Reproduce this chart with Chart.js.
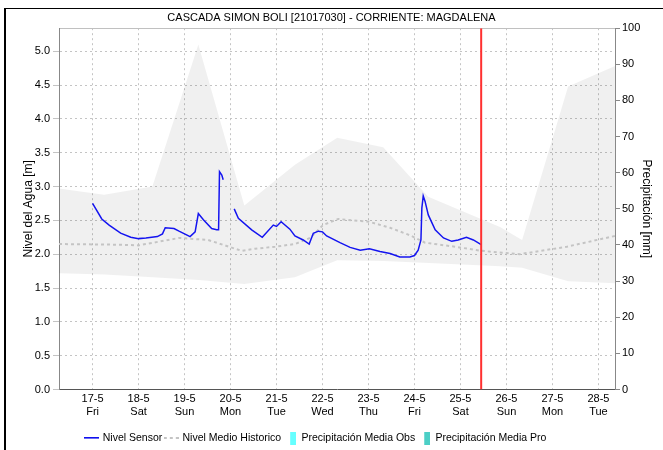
<!DOCTYPE html>
<html>
<head>
<meta charset="utf-8">
<script src="https://cdn.jsdelivr.net/npm/chart.js@4.4.1/dist/chart.umd.min.js"></script>
<style>
  html, body { margin: 0; padding: 0; background: #fff; overflow: hidden; }
  #marco { position: absolute; left: 4px; top: 8px; width: 700px; height: 500px; border-left: 2px solid #000; border-top: 1px solid #000; }
  #grafico { position: absolute; left: 0; top: 0; }
</style>
</head>
<body>
<div id="marco"></div>
<canvas id="grafico" width="663" height="450"></canvas>
<script>
const titulo = 'CASCADA SIMON BOLI [21017030] - CORRIENTE: MAGDALENA'

// eje x en días contados desde el 17-5 a las 00:00
const fechas = ['17-5', '18-5', '19-5', '20-5', '21-5', '22-5', '23-5', '24-5', '25-5', '26-5', '27-5', '28-5']
const diasSemana = ['Fri', 'Sat', 'Sun', 'Mon', 'Tue', 'Wed', 'Thu', 'Fri', 'Sat', 'Sun', 'Mon', 'Tue']
const diaInicio = -0.73
const diaFin = 11.36
const diaActual = 8.45

// Nivel Sensor [m] (null = sin dato)
const sensorDias = [0, 0.2, 0.36, 0.61, 0.83, 1.0, 1.16, 1.41, 1.52, 1.58, 1.77, 1.88, 2.12, 2.23, 2.3, 2.41, 2.59, 2.7, 2.74, 2.76, 2.81, 2.84,
  2.96, 3.08, 3.17, 3.46, 3.69, 3.93, 4.0, 4.1, 4.29, 4.4, 4.58, 4.71, 4.8, 4.91, 5.0, 5.09, 5.38, 5.6, 5.82, 6.02, 6.25, 6.47, 6.68, 6.9, 7.0,
  7.08, 7.14, 7.16, 7.19, 7.23, 7.3, 7.45, 7.63, 7.81, 7.95, 8.13, 8.28, 8.45]
const sensorNivel = [2.75, 2.52, 2.43, 2.31, 2.25, 2.23, 2.24, 2.26, 2.3, 2.39, 2.38, 2.34, 2.26, 2.33, 2.6, 2.51, 2.38, 2.36, 2.36, 3.22, 3.17, 3.1,
  null, 2.67, 2.53, 2.36, 2.25, 2.43, 2.41, 2.48, 2.37, 2.27, 2.21, 2.15, 2.31, 2.34, 2.33, 2.27, 2.17, 2.1, 2.06, 2.08, 2.04, 2.01, 1.96, 1.96, 1.98,
  2.06, 2.21, 2.68, 2.86, 2.78, 2.58, 2.36, 2.24, 2.19, 2.21, 2.25, 2.21, 2.14]

// Nivel Medio Historico [m]
const historicoDias = [-0.73, 0.58, 1.0, 1.88, 2.51, 3.24, 3.53, 3.97, 4.4, 4.73, 5.01, 5.34, 6.01, 6.47, 6.9, 7.23, 7.88, 8.45, 9.29, 10.31, 11.36]
const historicoNivel = [2.15, 2.14, 2.13, 2.24, 2.21, 2.05, 2.08, 2.11, 2.15, 2.24, 2.43, 2.52, 2.48, 2.39, 2.28, 2.17, 2.11, 2.05, 2.0, 2.11, 2.27]

// banda de niveles historicos (max / min) [m]
const bandaDias = [-0.73, 0.25, 1.3, 2.3, 3.3, 4.4, 5.32, 6.32, 7.3, 8.86, 9.34, 10.34, 11.36]
const bandaMax = [2.97, 2.88, 3.0, 5.1, 2.72, 3.32, 3.72, 3.58, 2.85, 2.4, 2.21, 4.48, 4.78]
const bandaMin = [1.72, 1.7, 1.66, 1.62, 1.56, 1.66, 1.91, 1.9, 1.87, 1.82, 1.8, 1.6, 1.57]

const nivelMax = 5.34

const puntos = (xs, ys) => xs.map((x, i) => ({ x, y: ys[i] }))

// iconos de la leyenda (el rectangulo va pegado al texto)
function icono(w, h, dibujar) {
  const c = document.createElement('canvas')
  c.width = w
  c.height = h
  dibujar(c.getContext('2d'))
  return c
}
const iconos = [
  icono(15, 2, g => { g.fillStyle = '#1010ee'; g.fillRect(0, 0, 15, 1.5) }),
  icono(15, 2, g => { g.fillStyle = '#c4c4c4'; for (let x = 0; x < 15; x += 6) g.fillRect(x, 0, 3, 2) }),
  icono(12, 13, g => { g.fillStyle = '#66ffff'; g.fillRect(6, 0, 6, 13) }),
  icono(12, 13, g => { g.fillStyle = '#4ccfc6'; g.fillRect(6, 0, 6, 13) })
]

Chart.defaults.font.family = "'Liberation Sans', Arial, sans-serif"
Chart.defaults.font.size = 11
Chart.defaults.color = '#000'

const data = {
  datasets: [
    {
      type: 'line', label: 'Nivel Sensor', data: puntos(sensorDias, sensorNivel), yAxisID: 'y',
      borderColor: '#1414f0', borderWidth: 1.5, pointRadius: 0, spanGaps: false, order: 1
    },
    {
      type: 'line', label: 'Nivel Medio Historico', data: puntos(historicoDias, historicoNivel), yAxisID: 'y',
      borderColor: '#c4c4c4', borderWidth: 2, borderDash: [3, 3], pointRadius: 0, order: 2
    },
    { type: 'bar', label: 'Precipitación Media Obs', data: [], yAxisID: 'y2', backgroundColor: '#66ffff' },
    { type: 'bar', label: 'Precipitación Media Pro', data: [], yAxisID: 'y2', backgroundColor: '#4ccfc6' },
    {
      type: 'line', label: '', data: [{ x: diaActual, y: 0 }, { x: diaActual, y: nivelMax }], yAxisID: 'y',
      borderColor: '#ff3030', borderWidth: 2, pointRadius: 0, order: 0
    },
    {
      type: 'line', label: '', data: puntos(bandaDias, bandaMin), yAxisID: 'y',
      borderWidth: 0, pointRadius: 0, fill: false, order: 5
    },
    {
      type: 'line', label: '', data: puntos(bandaDias, bandaMax), yAxisID: 'y',
      borderWidth: 0, pointRadius: 0, fill: '-1', backgroundColor: 'rgba(0,0,0,0.06)', order: 5
    }
  ]
}

// la leyenda empieza a la altura de la linea azul del original
const posLeyenda = {
  id: 'posLeyenda',
  afterLayout(chart) {
    const l = chart.legend
    const alto = l.bottom - l.top
    l.left = 82.5
    l.right = 782.5
    l.top = 430
    l.bottom = 430 + alto
  }
}

const config = {
  type: 'line',
  data,
  plugins: [posLeyenda],
  options: {
    responsive: false,
    animation: false,
    layout: { padding: 0 },
    scales: {
      x: {
        type: 'linear', min: diaInicio, max: diaFin, offset: false,
        afterFit: s => { s.height = 37 },
        ticks: {
          stepSize: 1, includeBounds: false, maxRotation: 0, autoSkip: false, padding: 3,
          callback: v => (Number.isInteger(v) && fechas[v]) ? [fechas[v], diasSemana[v]] : ''
        },
        grid: { color: '#c4c4c4', drawTicks: false, offset: false },
        border: { color: '#555', dash: [2, 3] }
      },
      xTop: {
        type: 'linear', position: 'top', min: diaInicio, max: diaFin, offset: false,
        afterFit: s => { s.height = 0 },
        ticks: { display: false },
        grid: { display: false },
        border: { color: '#c0c0c0' }
      },
      y: {
        min: 0, max: nivelMax,
        afterFit: s => { s.width = 59 },
        ticks: { stepSize: 0.5, includeBounds: false, padding: 3, callback: v => v.toFixed(1) },
        grid: { color: '#c4c4c4', tickLength: 6 },
        border: { color: '#888', dash: [2, 3] },
        title: { display: true, text: 'Nivel del Agua [m]', font: { size: 12 }, padding: { top: 21, bottom: 0 } }
      },
      y2: {
        position: 'right', min: 0, max: 100,
        afterFit: s => { s.width = 48 },
        ticks: { stepSize: 10, padding: 2 },
        grid: { drawOnChartArea: false, color: '#888', tickLength: 5 },
        border: { color: '#888' },
        title: { display: true, text: 'Precipitación [mm]', font: { size: 12 }, padding: { top: 9, bottom: 0 } }
      }
    },
    plugins: {
      title: {
        display: true, text: titulo, color: '#000',
        font: { size: 11, weight: 'normal' },
        padding: { top: 11, bottom: 4 }
      },
      legend: {
        position: 'bottom', align: 'start',
        labels: {
          usePointStyle: true, pointStyleWidth: 12, boxHeight: 11, padding: 3,
          font: { size: 10.5 },
          generateLabels: chart => iconos.map((ic, i) => ({
            text: chart.data.datasets[i].label, pointStyle: ic, datasetIndex: i,
            hidden: false, lineWidth: 0, strokeStyle: 'rgba(0,0,0,0)', fillStyle: 'rgba(0,0,0,0)', fontColor: '#000'
          }))
        }
      },
      tooltip: { enabled: false }
    }
  }
}

const grafico = new Chart(document.getElementById('grafico'), config)
</script>
</body>
</html>
